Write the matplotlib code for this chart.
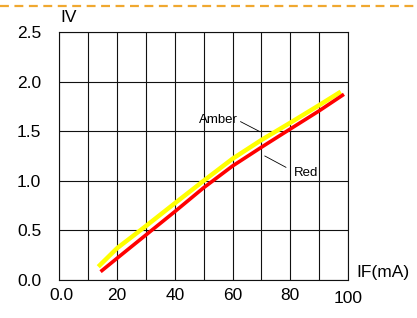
import numpy as np
import matplotlib.pyplot as plt
from matplotlib.lines import Line2D
import matplotlib.transforms as mtransforms

plt.rcParams['font.family'] = ['Liberation Sans', 'DejaVu Sans']

# Amber (yellow) curve, IF in mA vs relative IV
amber_if = [13.5, 20, 30, 40, 50, 60, 70, 80, 90, 97.5]
amber_iv = [0.134, 0.32, 0.544, 0.773, 1.0, 1.222, 1.411, 1.585, 1.762, 1.898]

# Red curve
red_if = [14.3, 20, 30, 40, 50, 60, 70, 80, 90, 98.6]
red_iv = [0.084, 0.219, 0.454, 0.689, 0.93, 1.149, 1.338, 1.522, 1.705, 1.872]

x_ticks = [0, 20, 40, 60, 80, 100]
x_labels = ['0.0', '20', '40', '60', '80', '100']
y_ticks = [0.0, 0.5, 1.0, 1.5, 2.0, 2.5]
y_labels = ['0.0', '0.5', '1.0', '1.5', '2.0', '2.5']

fig = plt.figure(figsize=(4.17, 3.18), dpi=100)
ax = fig.add_axes([0.1422, 0.1195, 0.6923, 0.7799])

ax.plot(amber_if, amber_iv, color='#FFFF00', lw=3.2, solid_capstyle='butt', solid_joinstyle='round')
ax.plot(red_if, red_iv, color='#FF0000', lw=2.6, solid_capstyle='butt', solid_joinstyle='round')

ax.set_xlim(0, 100)
ax.set_ylim(0, 2.5)
ax.set_xticks(x_ticks)
ax.set_xticklabels(x_labels, fontsize=12.5)
ax.set_xticks(np.arange(0, 101, 10), minor=True)
ax.set_yticks(y_ticks)
ax.set_yticklabels(y_labels, fontsize=12.5)
ax.grid(True, which='both', color='#111111', lw=0.8)
ax.tick_params(which='both', length=0)
ax.tick_params(axis='y', pad=13)
ax.tick_params(axis='x', pad=6)
for s in ax.spines.values():
    s.set_color('#111111')
    s.set_linewidth(0.8)

# small shifts seen on the first and last x labels
lbls = ax.get_xticklabels()
lbls[0].set_transform(lbls[0].get_transform() + mtransforms.ScaledTranslation(2/100, 0, fig.dpi_scale_trans))
lbls[-1].set_transform(lbls[-1].get_transform() + mtransforms.ScaledTranslation(0, -3/100, fig.dpi_scale_trans))

# curve labels with leader lines
ax.text(55, 1.61, 'Amber', fontsize=9.5, ha='center', va='center')
ax.plot([62.8, 69.5], [1.596, 1.495], color='black', lw=0.6)
ax.text(85.5, 1.08, 'Red', fontsize=9.5, ha='center', va='center')
ax.plot([71.2, 78.5], [1.25, 1.136], color='black', lw=0.6)

fig.text(60/417, 1 - 18/318, 'IV', fontsize=12.5, ha='left', va='center')
fig.text(356/417, 1 - 273/318, 'IF(mA)', fontsize=12.5, ha='left', va='center')

fig.add_artist(Line2D([0, 1], [1 - 6/318, 1 - 6/318], color='#F0A830',
                      lw=1.6, ls=(0, (4, 2.5)), transform=fig.transFigure))

fig.savefig('out.png', dpi=100)
